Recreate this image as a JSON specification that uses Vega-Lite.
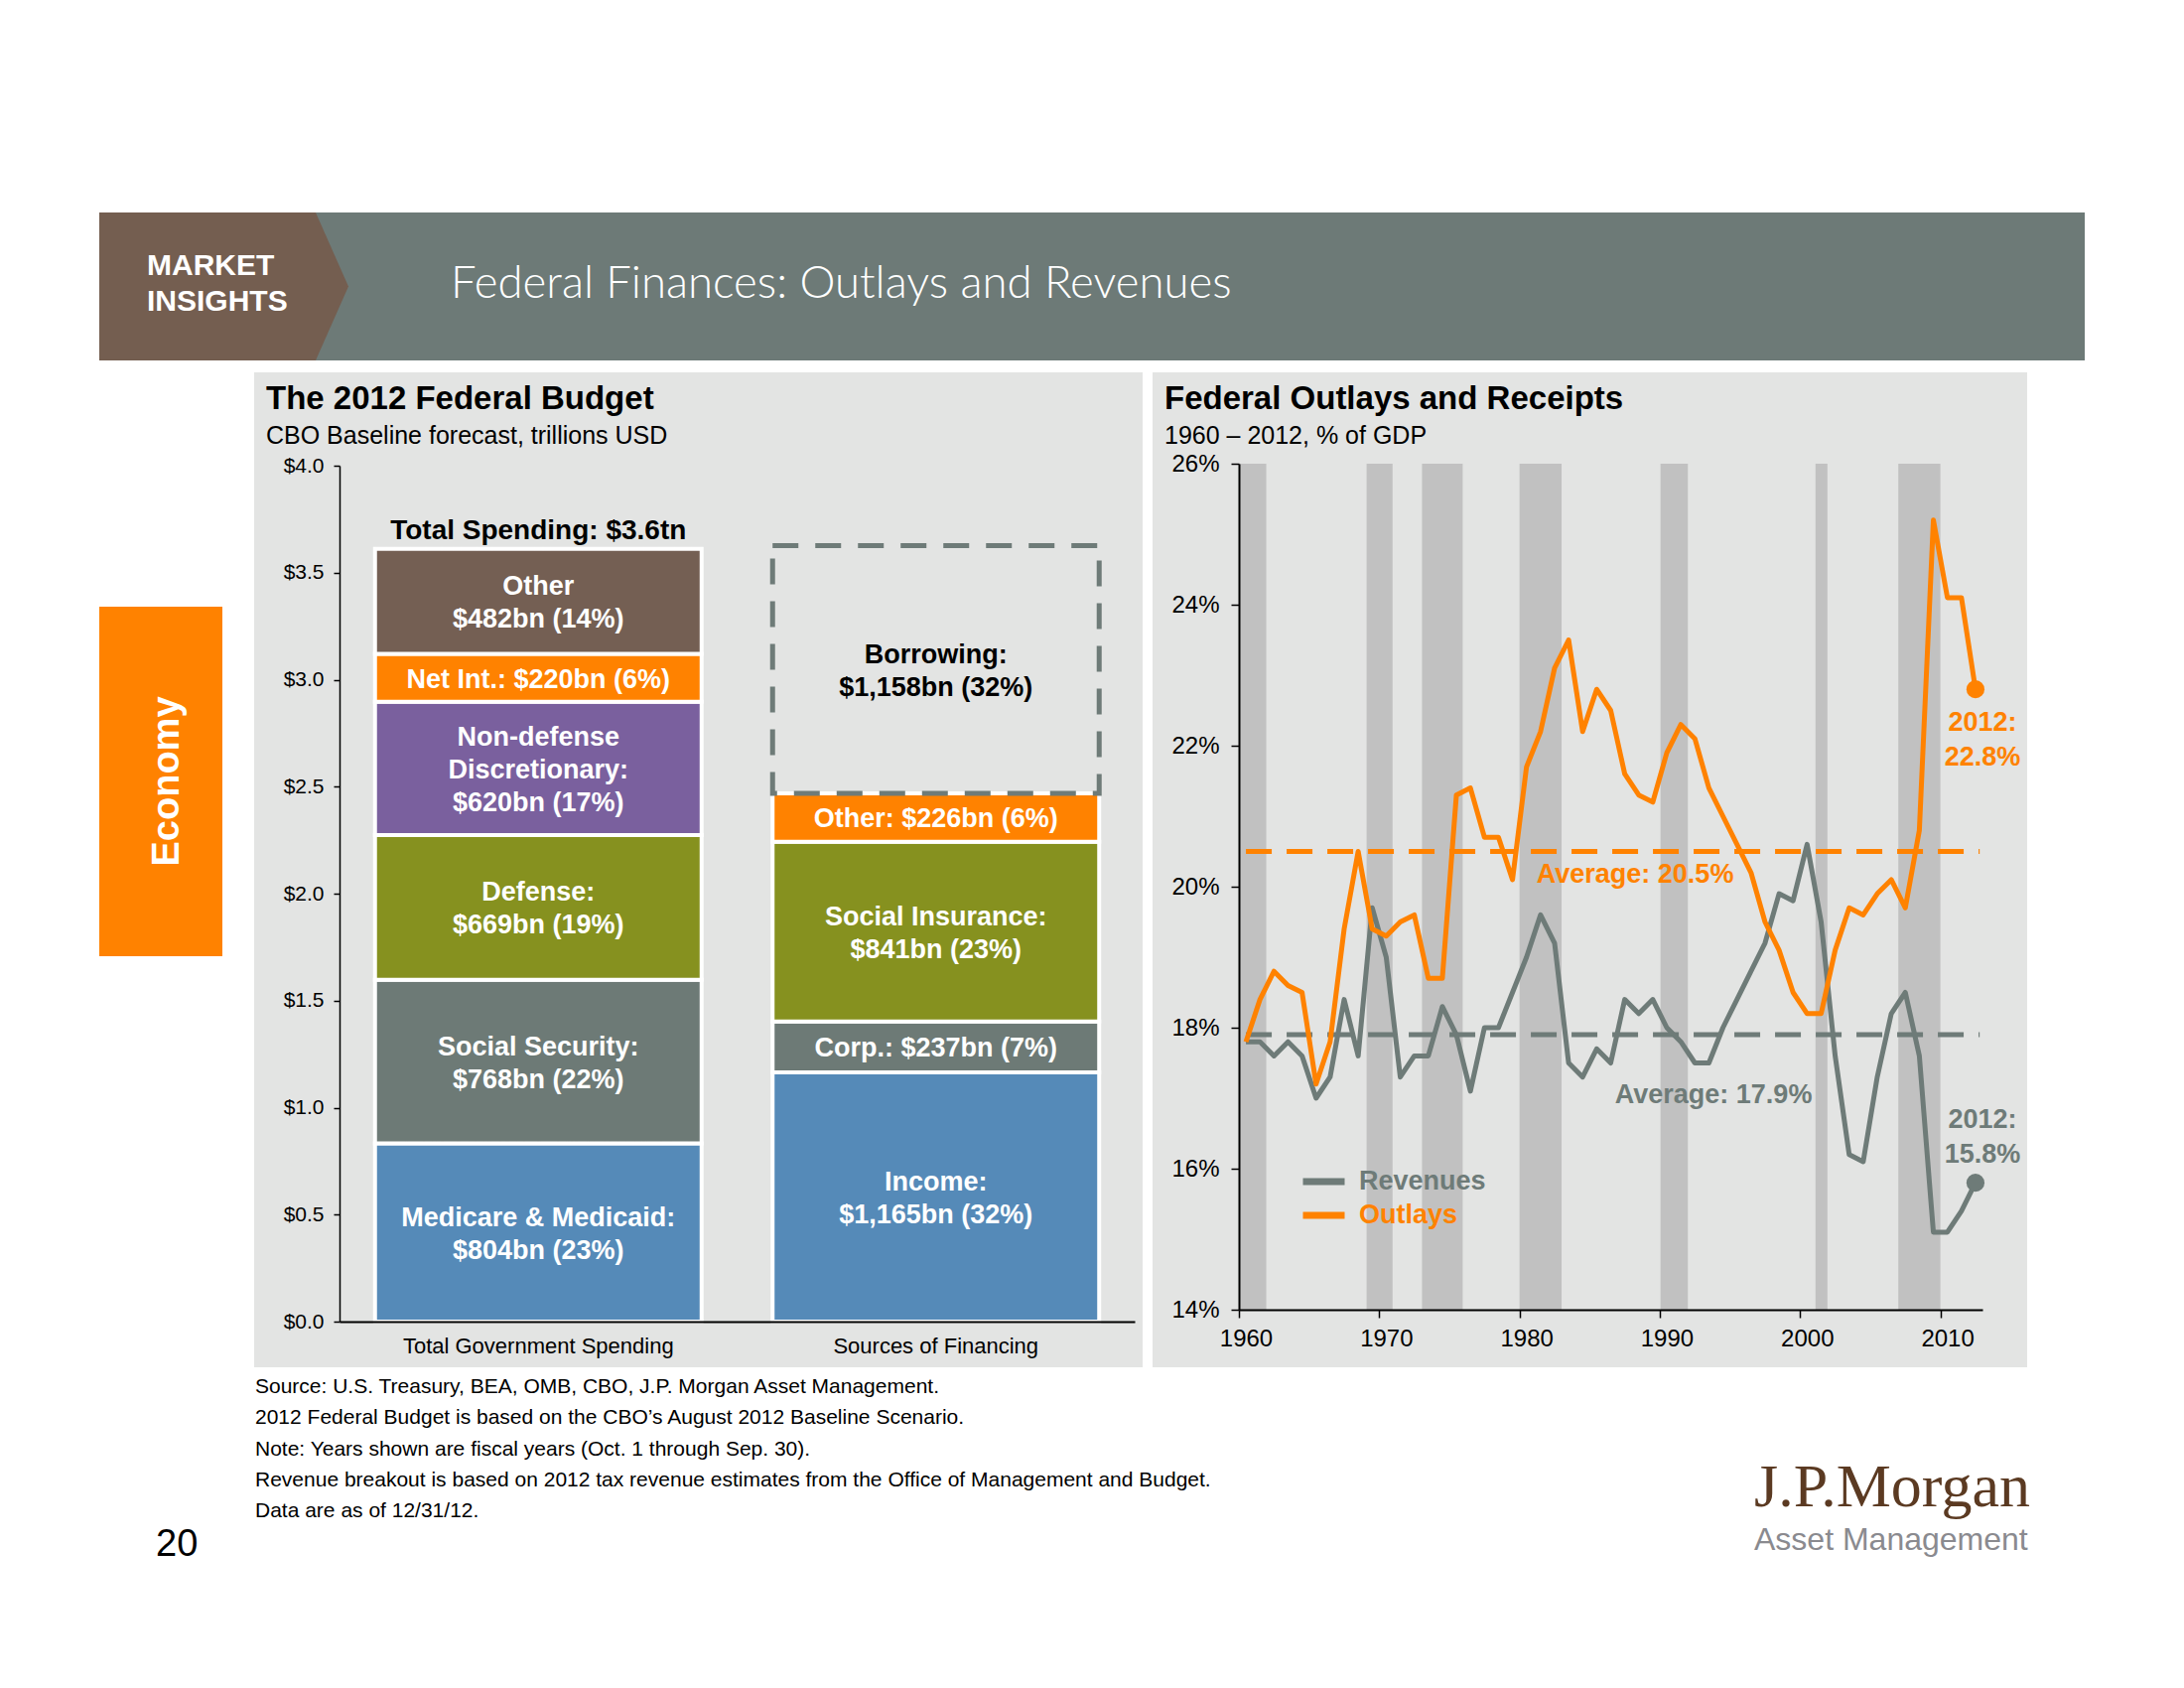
{
  "$schema": "https://vega.github.io/schema/vega-lite/v6.json",
  "background": "white",
  "padding": {"left": 100, "top": 214, "right": 100, "bottom": 123},
  "config": {
    "font": "Liberation Sans",
    "view": {"stroke": null},
    "axis": {"grid": false, "labelFont": "Liberation Sans", "labelColor": "black", "domainColor": "black", "tickColor": "black", "zindex": 1},
    "title": {"font": "Liberation Sans", "color": "black", "subtitleFont": "Liberation Sans", "subtitleColor": "black", "anchor": "start", "frame": "group"}
  },
  "datasets": {
    "budget": [
      {"bar": "Total Government Spending", "item": "Medicare & Medicaid", "value": 0.833, "order": 1, "label": ["Medicare & Medicaid:", "$804bn (23%)"]},
      {"bar": "Total Government Spending", "item": "Social Security", "value": 0.765, "order": 2, "label": ["Social Security:", "$768bn (22%)"]},
      {"bar": "Total Government Spending", "item": "Defense", "value": 0.676, "order": 3, "label": ["Defense:", "$669bn (19%)"]},
      {"bar": "Total Government Spending", "item": "Non-defense Discretionary", "value": 0.623, "order": 4, "label": ["Non-defense", "Discretionary:", "$620bn (17%)"]},
      {"bar": "Total Government Spending", "item": "Net Interest", "value": 0.224, "order": 5, "label": "Net Int.: $220bn (6%)"},
      {"bar": "Total Government Spending", "item": "Other Spending", "value": 0.490, "order": 6, "label": ["Other", "$482bn (14%)"]},
      {"bar": "Sources of Financing", "item": "Income", "value": 1.165, "order": 1, "label": ["Income:", "$1,165bn (32%)"]},
      {"bar": "Sources of Financing", "item": "Corporate", "value": 0.237, "order": 2, "label": "Corp.: $237bn (7%)"},
      {"bar": "Sources of Financing", "item": "Social Insurance", "value": 0.841, "order": 3, "label": ["Social Insurance:", "$841bn (23%)"]},
      {"bar": "Sources of Financing", "item": "Other Financing", "value": 0.226, "order": 4, "label": "Other: $226bn (6%)"},
      {"bar": "Sources of Financing", "item": "Borrowing", "value": 1.158, "order": 5, "label": ["Borrowing:", "$1,158bn (32%)"]}
    ],
    "fiscal": [
      {"year": 1960, "Revenues": 17.8, "Outlays": 17.8},
      {"year": 1961, "Revenues": 17.8, "Outlays": 18.4},
      {"year": 1962, "Revenues": 17.6, "Outlays": 18.8},
      {"year": 1963, "Revenues": 17.8, "Outlays": 18.6},
      {"year": 1964, "Revenues": 17.6, "Outlays": 18.5},
      {"year": 1965, "Revenues": 17.0, "Outlays": 17.2},
      {"year": 1966, "Revenues": 17.3, "Outlays": 17.8},
      {"year": 1967, "Revenues": 18.4, "Outlays": 19.4},
      {"year": 1968, "Revenues": 17.6, "Outlays": 20.5},
      {"year": 1969, "Revenues": 19.7, "Outlays": 19.4},
      {"year": 1970, "Revenues": 19.0, "Outlays": 19.3},
      {"year": 1971, "Revenues": 17.3, "Outlays": 19.5},
      {"year": 1972, "Revenues": 17.6, "Outlays": 19.6},
      {"year": 1973, "Revenues": 17.6, "Outlays": 18.7},
      {"year": 1974, "Revenues": 18.3, "Outlays": 18.7},
      {"year": 1975, "Revenues": 17.9, "Outlays": 21.3},
      {"year": 1976, "Revenues": 17.1, "Outlays": 21.4},
      {"year": 1977, "Revenues": 18.0, "Outlays": 20.7},
      {"year": 1978, "Revenues": 18.0, "Outlays": 20.7},
      {"year": 1979, "Revenues": 18.5, "Outlays": 20.1},
      {"year": 1980, "Revenues": 19.0, "Outlays": 21.7},
      {"year": 1981, "Revenues": 19.6, "Outlays": 22.2},
      {"year": 1982, "Revenues": 19.2, "Outlays": 23.1},
      {"year": 1983, "Revenues": 17.5, "Outlays": 23.5},
      {"year": 1984, "Revenues": 17.3, "Outlays": 22.2},
      {"year": 1985, "Revenues": 17.7, "Outlays": 22.8},
      {"year": 1986, "Revenues": 17.5, "Outlays": 22.5},
      {"year": 1987, "Revenues": 18.4, "Outlays": 21.6},
      {"year": 1988, "Revenues": 18.2, "Outlays": 21.3},
      {"year": 1989, "Revenues": 18.4, "Outlays": 21.2},
      {"year": 1990, "Revenues": 18.0, "Outlays": 21.9},
      {"year": 1991, "Revenues": 17.8, "Outlays": 22.3},
      {"year": 1992, "Revenues": 17.5, "Outlays": 22.1},
      {"year": 1993, "Revenues": 17.5, "Outlays": 21.4},
      {"year": 1994, "Revenues": 18.0, "Outlays": 21.0},
      {"year": 1995, "Revenues": 18.4, "Outlays": 20.6},
      {"year": 1996, "Revenues": 18.8, "Outlays": 20.2},
      {"year": 1997, "Revenues": 19.2, "Outlays": 19.5},
      {"year": 1998, "Revenues": 19.9, "Outlays": 19.1},
      {"year": 1999, "Revenues": 19.8, "Outlays": 18.5},
      {"year": 2000, "Revenues": 20.6, "Outlays": 18.2},
      {"year": 2001, "Revenues": 19.5, "Outlays": 18.2},
      {"year": 2002, "Revenues": 17.6, "Outlays": 19.1},
      {"year": 2003, "Revenues": 16.2, "Outlays": 19.7},
      {"year": 2004, "Revenues": 16.1, "Outlays": 19.6},
      {"year": 2005, "Revenues": 17.3, "Outlays": 19.9},
      {"year": 2006, "Revenues": 18.2, "Outlays": 20.1},
      {"year": 2007, "Revenues": 18.5, "Outlays": 19.7},
      {"year": 2008, "Revenues": 17.6, "Outlays": 20.8},
      {"year": 2009, "Revenues": 15.1, "Outlays": 25.2},
      {"year": 2010, "Revenues": 15.1, "Outlays": 24.1},
      {"year": 2011, "Revenues": 15.4, "Outlays": 24.1},
      {"year": 2012, "Revenues": 15.8, "Outlays": 22.8}
    ],
    "recessions": [
      {"from": 1959.55, "to": 1961.45},
      {"from": 1968.6, "to": 1970.45},
      {"from": 1972.55, "to": 1975.45},
      {"from": 1979.5, "to": 1982.5},
      {"from": 1989.55, "to": 1991.5},
      {"from": 2000.6, "to": 2001.45},
      {"from": 2006.5, "to": 2009.5}
    ],
    "averages": [
      {"series": "Outlays", "avg": 20.5},
      {"series": "Revenues", "avg": 17.9}
    ]
  },
  "spacing": 0,
  "resolve": {"scale": {"color": "independent"}, "legend": {"color": "independent"}},
  "vconcat": [
    {
      "bounds": "flush",
      "spacing": 0,
      "hconcat": [
        {
          "width": 218, "height": 149,
          "data": {"values": [{}]},
          "mark": {"type": "rect", "color": "#745e50"},
          "title": {"text": ["MARKET", "INSIGHTS"], "fontSize": 30, "fontWeight": "bold", "color": "white", "lineHeight": 36, "dx": 48, "offset": -105}
        },
        {
          "width": 1782, "height": 149,
          "data": {"values": [{}]},
          "title": {"text": "Federal Finances: Outlays and Revenues", "font": "Lato", "fontWeight": 300, "fontSize": 45.5, "color": "white", "dx": 136, "offset": -95},
          "layer": [
            {"mark": {"type": "rect", "color": "#6d7a77"}},
            {"mark": {"type": "point", "shape": "M-11.96,-1L-11.517,0L-11.96,1Z", "size": 22201, "filled": true, "color": "#745e50", "opacity": 1, "strokeWidth": 0}}
          ]
        }
      ]
    },
    {"width": 2000, "height": 12, "data": {"values": [{}]}, "mark": {"type": "rect", "opacity": 0}},
    {
      "spacing": 32,
      "resolve": {"scale": {"color": "independent"}, "legend": {"color": "independent"}},
      "hconcat": [
        {
          "spacing": 0,
          "vconcat": [
            {"width": 124, "height": 236, "data": {"values": [{}]}, "mark": {"type": "rect", "opacity": 0}},
            {
              "width": 124, "height": 352,
              "data": {"values": [{}]},
              "mark": {"type": "rect", "color": "#ff8200"},
              "title": {"text": "Economy", "orient": "left", "anchor": "middle", "fontSize": 38, "fontWeight": "bold", "color": "white", "offset": -88}
            }
          ]
        },
        {
          "spacing": 10,
          "resolve": {"scale": {"color": "independent"}, "legend": {"color": "independent"}},
          "hconcat": [
            {
              "width": 895, "height": 1002,
              "view": {"fill": "#e3e4e3", "stroke": null},
              "title": {"text": "The 2012 Federal Budget", "subtitle": "CBO Baseline forecast, trillions USD", "fontSize": 33, "fontWeight": "bold", "subtitleFontSize": 25, "subtitlePadding": 8.5, "dx": 12, "offset": -77},
              "layer": [
                {"data": {"values": [{}]}, "mark": {"type": "rect", "opacity": 0}},
                {
                  "data": {"name": "budget"},
                  "mark": {"type": "bar"},
                  "encoding": {
                    "x": {"field": "bar", "type": "nominal",
                      "scale": {"domain": ["Total Government Spending", "Sources of Financing"], "range": [86, 887], "paddingInner": 0.1785, "paddingOuter": 0.0893},
                      "axis": {"title": null, "orient": "bottom", "offset": -46, "zindex": 2, "domainWidth": 2, "ticks": false, "labelFontSize": 22, "labelPadding": 14, "labelAngle": 0, "labelLimit": 0}},
                    "y": {"field": "value", "type": "quantitative", "stack": "zero",
                      "scale": {"domain": [0, 4], "range": [956, 94], "nice": false},
                      "axis": {"title": null, "orient": "left", "offset": -86, "zindex": 2, "values": [0, 0.5, 1, 1.5, 2, 2.5, 3, 3.5, 4], "format": "$.1f", "domainWidth": 1.5, "tickSize": 6, "tickWidth": 1.5, "labelFontSize": 21, "labelPadding": 10}},
                    "order": {"field": "order", "type": "quantitative"},
                    "color": {"field": "item", "type": "nominal", "legend": null,
                      "scale": {"domain": ["Medicare & Medicaid", "Social Security", "Defense", "Non-defense Discretionary", "Net Interest", "Other Spending", "Income", "Corporate", "Social Insurance", "Other Financing", "Borrowing"],
                                "range": ["#558ab8", "#6d7a76", "#86911f", "#7a609e", "#ff8200", "#745f53", "#558ab8", "#6d7a76", "#86911f", "#ff8200", "transparent"]}},
                    "stroke": {"condition": {"test": "datum.item === 'Borrowing'", "value": "#6e7b78"}, "value": "white"},
                    "strokeWidth": {"condition": {"test": "datum.item === 'Borrowing'", "value": 5}, "value": 4},
                    "strokeDash": {"condition": {"test": "datum.item === 'Borrowing'", "value": [26, 17]}, "value": [1, 0]}
                  }
                },
                {
                  "data": {"name": "budget"},
                  "mark": {"type": "text", "fontSize": 27, "fontWeight": "bold", "lineHeight": 33, "baseline": "middle", "align": "center",
                           "dy": {"expr": "isArray(datum.label) ? -(datum.label.length - 1) * 16.5 + 2 : 2"}},
                  "encoding": {
                    "x": {"field": "bar", "type": "nominal",
                      "scale": {"domain": ["Total Government Spending", "Sources of Financing"], "range": [86, 887], "paddingInner": 0.1785, "paddingOuter": 0.0893}},
                    "y": {"field": "value", "type": "quantitative", "stack": "zero", "bandPosition": 0.5,
                      "scale": {"domain": [0, 4], "range": [956, 94], "nice": false}},
                    "order": {"field": "order", "type": "quantitative"},
                    "detail": {"field": "item", "type": "nominal"},
                    "text": {"field": "label", "type": "nominal"},
                    "color": {"condition": {"test": "datum.item === 'Borrowing'", "value": "black"}, "value": "white"}
                  }
                },
                {
                  "data": {"name": "budget"},
                  "transform": [
                    {"filter": "datum.bar === 'Total Government Spending'"},
                    {"aggregate": [{"op": "sum", "field": "value", "as": "total"}], "groupby": ["bar"]}
                  ],
                  "mark": {"type": "text", "fontSize": 28, "fontWeight": "bold", "baseline": "middle", "align": "center", "dy": -18, "color": "black"},
                  "encoding": {
                    "x": {"field": "bar", "type": "nominal",
                      "scale": {"domain": ["Total Government Spending", "Sources of Financing"], "range": [86, 887], "paddingInner": 0.1785, "paddingOuter": 0.0893}},
                    "y": {"field": "total", "type": "quantitative",
                      "scale": {"domain": [0, 4], "range": [956, 94], "nice": false}},
                    "text": {"value": "Total Spending: $3.6tn"}
                  }
                }
              ]
            },
            {
              "width": 881, "height": 1002,
              "view": {"fill": "#e3e4e3", "stroke": null},
              "title": {"text": "Federal Outlays and Receipts", "subtitle": "1960 – 2012, % of GDP", "fontSize": 33, "fontWeight": "bold", "subtitleFontSize": 25, "subtitlePadding": 8.5, "dx": 12, "offset": -77},
              "layer": [
                {"data": {"values": [{}]}, "mark": {"type": "rect", "opacity": 0}},
                {
                  "data": {"name": "recessions"},
                  "mark": {"type": "rect", "color": "#c1c1c1"},
                  "encoding": {
                    "x": {"field": "from", "type": "quantitative",
                      "scale": {"domain": [1959.5, 2012.5], "range": [87, 836], "nice": false, "zero": false},
                      "axis": {"title": null, "orient": "bottom", "offset": -58, "zindex": 2, "values": [1959.5, 1969.5, 1979.5, 1989.5, 1999.5, 2009.5], "labelExpr": "datum.value + 0.5", "labelOffset": 7, "labelFlush": false, "domainWidth": 2, "tickSize": 8, "tickWidth": 1.5, "labelFontSize": 24, "labelPadding": 9}},
                    "x2": {"field": "to"},
                    "y": {"datum": 14, "type": "quantitative",
                      "scale": {"domain": [14, 26], "range": [944, 92], "nice": false, "zero": false},
                      "axis": {"title": null, "orient": "left", "offset": -87, "zindex": 2, "values": [14, 16, 18, 20, 22, 24, 26], "labelExpr": "datum.value + '%'", "domainWidth": 2, "tickSize": 8, "tickWidth": 1.5, "labelFontSize": 24, "labelPadding": 12}},
                    "y2": {"datum": 26}
                  }
                },
                {
                  "data": {"name": "averages"},
                  "mark": {"type": "rule", "strokeWidth": 5, "strokeDash": [26, 15]},
                  "encoding": {
                    "x": {"datum": 1960, "type": "quantitative",
                      "scale": {"domain": [1959.5, 2012.5], "range": [87, 836], "nice": false, "zero": false}},
                    "x2": {"datum": 2012.3},
                    "y": {"field": "avg", "type": "quantitative",
                      "scale": {"domain": [14, 26], "range": [944, 92], "nice": false, "zero": false}},
                    "color": {"field": "series", "type": "nominal",
                      "scale": {"domain": ["Revenues", "Outlays"], "range": ["#6e7b78", "#ff8200"]}}
                  }
                },
                {
                  "data": {"name": "fiscal"},
                  "transform": [{"fold": ["Revenues", "Outlays"], "as": ["series", "value"]}],
                  "mark": {"type": "line", "strokeWidth": 5, "strokeJoin": "round"},
                  "encoding": {
                    "x": {"field": "year", "type": "quantitative",
                      "scale": {"domain": [1959.5, 2012.5], "range": [87, 836], "nice": false, "zero": false}},
                    "y": {"field": "value", "type": "quantitative",
                      "scale": {"domain": [14, 26], "range": [944, 92], "nice": false, "zero": false}},
                    "color": {"field": "series", "type": "nominal",
                      "scale": {"domain": ["Revenues", "Outlays"], "range": ["#6e7b78", "#ff8200"]},
                      "legend": {"title": null, "orient": "none", "legendX": 148, "legendY": 798, "direction": "vertical", "padding": 0, "zindex": 2,
                        "symbolType": "stroke", "symbolStrokeWidth": 7, "symbolSize": 1764, "clipHeight": 34, "rowPadding": 0,
                        "labelFont": "Liberation Sans", "labelFontSize": 27, "labelFontWeight": "bold", "labelOffset": 11,
                        "labelColor": {"expr": "datum.value === 'Outlays' ? '#ff8200' : '#6e7b78'"}}}
                  }
                },
                {
                  "data": {"name": "fiscal"},
                  "transform": [{"fold": ["Revenues", "Outlays"], "as": ["series", "value"]}, {"filter": "datum.year === 2012"}],
                  "mark": {"type": "point", "filled": true, "size": 330, "opacity": 1, "strokeWidth": 0},
                  "encoding": {
                    "x": {"field": "year", "type": "quantitative",
                      "scale": {"domain": [1959.5, 2012.5], "range": [87, 836], "nice": false, "zero": false}},
                    "y": {"field": "value", "type": "quantitative",
                      "scale": {"domain": [14, 26], "range": [944, 92], "nice": false, "zero": false}},
                    "color": {"field": "series", "type": "nominal",
                      "scale": {"domain": ["Revenues", "Outlays"], "range": ["#6e7b78", "#ff8200"]}}
                  }
                },
                {
                  "data": {"name": "averages"},
                  "transform": [{"filter": "datum.series === 'Outlays'"}],
                  "mark": {"type": "text", "fontSize": 27, "fontWeight": "bold", "color": "#ff8200", "baseline": "middle", "align": "center", "dy": 23},
                  "encoding": {
                    "x": {"datum": 1987.74, "type": "quantitative",
                      "scale": {"domain": [1959.5, 2012.5], "range": [87, 836], "nice": false, "zero": false}},
                    "y": {"field": "avg", "type": "quantitative",
                      "scale": {"domain": [14, 26], "range": [944, 92], "nice": false, "zero": false}},
                    "text": {"value": "Average: 20.5%"}
                  }
                },
                {
                  "data": {"name": "averages"},
                  "transform": [{"filter": "datum.series === 'Revenues'"}],
                  "mark": {"type": "text", "fontSize": 27, "fontWeight": "bold", "color": "#6e7b78", "baseline": "middle", "align": "center", "dy": 61},
                  "encoding": {
                    "x": {"datum": 1993.33, "type": "quantitative",
                      "scale": {"domain": [1959.5, 2012.5], "range": [87, 836], "nice": false, "zero": false}},
                    "y": {"field": "avg", "type": "quantitative",
                      "scale": {"domain": [14, 26], "range": [944, 92], "nice": false, "zero": false}},
                    "text": {"value": "Average: 17.9%"}
                  }
                },
                {
                  "data": {"name": "fiscal"},
                  "transform": [{"fold": ["Revenues", "Outlays"], "as": ["series", "value"]}, {"filter": "datum.year === 2012 && datum.series === 'Outlays'"}],
                  "mark": {"type": "text", "fontSize": 27, "fontWeight": "bold", "color": "#ff8200", "baseline": "top", "align": "center", "dx": 7, "dy": 21, "lineHeight": 35},
                  "encoding": {
                    "x": {"field": "year", "type": "quantitative",
                      "scale": {"domain": [1959.5, 2012.5], "range": [87, 836], "nice": false, "zero": false}},
                    "y": {"field": "value", "type": "quantitative",
                      "scale": {"domain": [14, 26], "range": [944, 92], "nice": false, "zero": false}},
                    "text": {"value": ["2012:", "22.8%"]}
                  }
                },
                {
                  "data": {"name": "fiscal"},
                  "transform": [{"fold": ["Revenues", "Outlays"], "as": ["series", "value"]}, {"filter": "datum.year === 2012 && datum.series === 'Revenues'"}],
                  "mark": {"type": "text", "fontSize": 27, "fontWeight": "bold", "color": "#6e7b78", "baseline": "middle", "align": "center", "dx": 7, "dy": -63, "lineHeight": 35},
                  "encoding": {
                    "x": {"field": "year", "type": "quantitative",
                      "scale": {"domain": [1959.5, 2012.5], "range": [87, 836], "nice": false, "zero": false}},
                    "y": {"field": "value", "type": "quantitative",
                      "scale": {"domain": [14, 26], "range": [944, 92], "nice": false, "zero": false}},
                    "text": {"value": ["2012:", "15.8%"]}
                  }
                }
              ]
            }
          ]
        }
      ]
    },
    {
      "spacing": 0,
      "hconcat": [
        {
          "width": 157, "height": 200,
          "data": {"values": [{}]},
          "mark": {"type": "rect", "opacity": 0},
          "title": {"text": "20", "fontSize": 38, "fontWeight": "normal", "dx": 57, "offset": -198}
        },
        {
          "width": 1510, "height": 200,
          "data": {"values": [{}]},
          "mark": {"type": "rect", "opacity": 0},
          "title": {"text": ["Source: U.S. Treasury, BEA, OMB, CBO,  J.P. Morgan Asset Management.", "2012 Federal Budget is based on the CBO’s August 2012 Baseline Scenario.", "Note: Years shown are fiscal years (Oct. 1 through Sep. 30).", "Revenue breakout is based on 2012 tax revenue estimates from the Office of Management and Budget.", "Data are as of 12/31/12."],
                    "fontSize": 21, "fontWeight": "normal", "lineHeight": 31.25, "offset": -155}
        },
        {
          "width": 333, "height": 200,
          "data": {"values": [{}]},
          "mark": {"type": "rect", "opacity": 0},
          "title": {"text": "J.P.Morgan", "font": "Liberation Serif", "fontSize": 62, "fontWeight": "normal", "color": "#5b3a22",
                    "subtitle": "Asset Management", "subtitleFont": "Liberation Sans", "subtitleFontSize": 32, "subtitleColor": "#8a8a8f", "subtitlePadding": 6, "offset": -191}
        }
      ]
    }
  ]
}
